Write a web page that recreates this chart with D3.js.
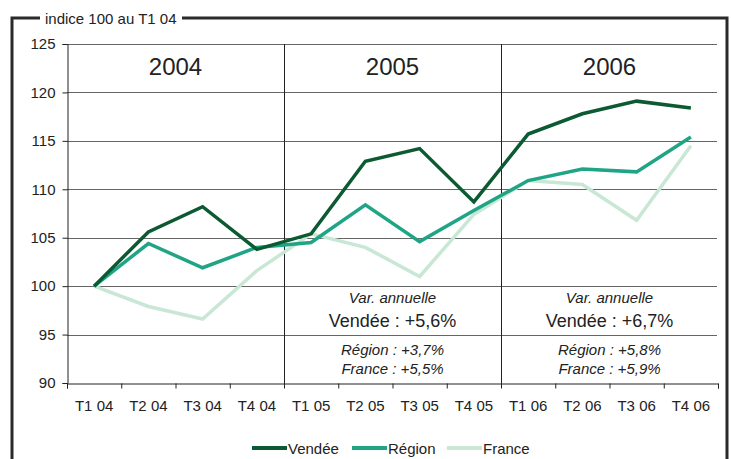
<!DOCTYPE html>
<html>
<head>
<meta charset="utf-8">
<script src="https://cdn.jsdelivr.net/npm/d3@7"></script>
<style>
  body { margin: 0; background: #fff; }
  text { font-family: "Liberation Sans", Arial, sans-serif; fill: #222; }
</style>
</head>
<body>
<script>
var quarters = ['T1 04','T2 04','T3 04','T4 04','T1 05','T2 05','T3 05','T4 05','T1 06','T2 06','T3 06','T4 06'];
var years = ['2004','2005','2006'];
var vendee = [100, 105.6, 108.2, 103.8, 105.4, 112.9, 114.2, 108.7, 115.7, 117.8, 119.1, 118.4];
var region = [100, 104.4, 101.9, 104.0, 104.5, 108.4, 104.6, 107.8, 110.9, 112.1, 111.8, 115.4];
var france = [100, 97.9, 96.6, 101.6, 105.4, 104.0, 101.0, 107.4, 110.9, 110.5, 106.8, 114.5];
var yTicks = [90, 95, 100, 105, 110, 115, 120, 125];

// annual change notes for 2005 and 2006
var noteYears = ['2005', '2006'];
var noteVendee = ['+5,6%', '+6,7%'];
var noteRegion = ['+3,7%', '+5,8%'];
var noteFrance = ['+5,5%', '+5,9%'];

var series = [
  {name: 'France', values: france, color: '#c9e7d5'},
  {name: 'Région', values: region, color: '#1fa585'},
  {name: 'Vendée', values: vendee, color: '#0b5a31'}
];
var legendOrder = ['Vendée', 'Région', 'France'];

var width = 731, height = 459;
var plotLeft = 67, plotRight = 718, plotTop = 44, plotBottom = 383;

var svg = d3.select("body").append("svg")
    .attr("width", width)
    .attr("height", height);

// outer frame
svg.append("path")
    .attr("d", "M12,459V18H40M182,18H727V459")
    .attr("fill", "none")
    .attr("stroke", "#2a2a2a")
    .attr("stroke-width", 3);
svg.append("text")
    .attr("x", 45).attr("y", 23.5)
    .style("font-size", "15px")
    .text("indice 100 au T1 04");

var y = d3.scaleLinear().domain([90, 125]).range([plotBottom, plotTop]);
var x = d3.scaleBand().domain(quarters).range([plotLeft, plotRight]); // band centres for points
var xi = d3.scaleLinear().domain([0, quarters.length]).range([plotLeft, plotRight]); // band edges for ticks

// horizontal grid
svg.append("g").selectAll("line")
    .data(yTicks.slice(1))
    .enter().append("line")
    .attr("x1", plotLeft).attr("x2", plotRight - 1)
    .attr("y1", function(d) { return Math.round(y(d)) + 0.5; })
    .attr("y2", function(d) { return Math.round(y(d)) + 0.5; })
    .attr("stroke", "#666");

// y axis
var yAxis = d3.axisLeft(y).tickValues(yTicks).tickSize(5).tickPadding(7);
var gy = svg.append("g")
    .attr("transform", "translate(" + (plotLeft + 0.5) + ",0)")
    .call(yAxis);
gy.selectAll("text").style("font-size", "15px").attr("fill", "#222");
gy.selectAll("line, path").attr("stroke", "#222");

// x axis ticks at band edges
var xAxis = d3.axisBottom(xi).tickValues(d3.range(quarters.length + 1)).tickFormat("").tickSize(5).tickSizeOuter(5);
var gx = svg.append("g")
    .attr("transform", "translate(0," + (Math.round(plotBottom) + 0.5) + ")")
    .call(xAxis);
gx.selectAll("line, path").attr("stroke", "#222");

// x labels
var xLab = d3.axisBottom(x).tickSize(0).tickPadding(17);
var gl = svg.append("g")
    .attr("transform", "translate(0," + plotBottom + ")")
    .call(xLab);
gl.select(".domain").remove();
gl.selectAll("text").style("font-size", "15px").attr("fill", "#222");

// year dividers
svg.append("g").selectAll("line")
    .data([4, 8])
    .enter().append("line")
    .attr("x1", function(d) { return Math.round(xi(d)) + 0.5; })
    .attr("x2", function(d) { return Math.round(xi(d)) + 0.5; })
    .attr("y1", plotTop).attr("y2", plotBottom + 5)
    .attr("stroke", "#222");

// year titles
svg.append("g").selectAll("text")
    .data(years)
    .enter().append("text")
    .attr("x", function(d, i) { return xi(i * 4 + 2); })
    .attr("y", 75)
    .attr("text-anchor", "middle")
    .style("font-size", "24px")
    .text(function(d) { return d; });

// annual change notes
var notes = svg.append("g").selectAll("g")
    .data(noteYears)
    .enter().append("g")
    .attr("transform", function(d) { return "translate(" + xi(years.indexOf(d) * 4 + 2) + ",0)"; })
    .attr("text-anchor", "middle");
notes.append("text").attr("y", 303).style("font-size", "15px").style("font-style", "italic")
    .text("Var. annuelle");
notes.append("text").attr("y", 327).style("font-size", "18px")
    .text(function(d, i) { return "Vendée : " + noteVendee[i]; });
notes.append("text").attr("y", 355).style("font-size", "15px").style("font-style", "italic")
    .text(function(d, i) { return "Région : " + noteRegion[i]; });
notes.append("text").attr("y", 374).style("font-size", "15px").style("font-style", "italic")
    .text(function(d, i) { return "France : " + noteFrance[i]; });

// lines
var line = d3.line()
    .x(function(d, i) { return x(quarters[i]) + x.bandwidth() / 2; })
    .y(function(d) { return y(d); });

svg.append("g").selectAll("path")
    .data(series)
    .enter().append("path")
    .attr("d", function(d) { return line(d.values); })
    .attr("fill", "none")
    .attr("stroke", function(d) { return d.color; })
    .attr("stroke-width", 3.5)
    .attr("stroke-linejoin", "miter");

// legend
var legX = [252, 352, 447];
var leg = svg.append("g").selectAll("g")
    .data(legendOrder)
    .enter().append("g")
    .attr("transform", function(d, i) { return "translate(" + legX[i] + ",448)"; });
leg.append("line")
    .attr("x1", 0).attr("x2", 35)
    .attr("stroke", function(d) { return series.find(function(s) { return s.name === d; }).color; })
    .attr("stroke-width", 4);
leg.append("text")
    .attr("x", 36).attr("y", 5.5)
    .style("font-size", "15px")
    .text(function(d) { return d; });
</script>
</body>
</html>
